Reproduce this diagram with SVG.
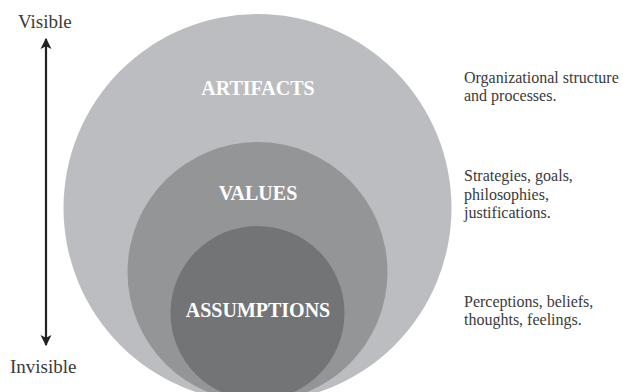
<svg xmlns="http://www.w3.org/2000/svg" width="623" height="392" viewBox="0 0 623 392">
<defs>
<style>
.lbl{font-family:"Liberation Serif","Times New Roman",serif;font-weight:bold;font-size:20px;fill:#ffffff;text-anchor:middle}
.side{font-family:"Liberation Serif","Times New Roman",serif;font-size:16px;fill:#3a3a3a}
.axis{font-family:"Liberation Serif","Times New Roman",serif;font-size:19px;fill:#3a3a3a}
</style>
<marker id="ah" viewBox="0 0 10 10" refX="9" refY="5" markerWidth="11" markerHeight="15" markerUnits="userSpaceOnUse" orient="auto-start-reverse">
<path d="M0,0 L10,5 L0,10 L2.5,5 Z" fill="#222"/>
</marker>
</defs>
<rect width="623" height="392" fill="#ffffff"/>
<g id="artifacts">
<circle cx="257.5" cy="208" r="194" fill="#bcbdc0"/>
<text class="lbl" x="258" y="95">ARTIFACTS</text>
</g>
<g id="values">
<circle cx="257.5" cy="272" r="130" fill="#949597"/>
<text class="lbl" x="258" y="200">VALUES</text>
</g>
<g id="assumptions">
<circle cx="257.5" cy="313" r="87" fill="#737476"/>
<text class="lbl" x="258" y="317">ASSUMPTIONS</text>
</g>
<g id="connectors">
<line x1="46" y1="39" x2="46" y2="345" stroke="#222" stroke-width="2.2" marker-start="url(#ah)" marker-end="url(#ah)"/>
</g>
<g id="axis-labels">
<text class="axis" x="18" y="28">Visible</text>
<text class="axis" x="10" y="373">Invisible</text>
</g>
<g id="descriptions">
<text class="side" x="464" y="83">Organizational structure</text>
<text class="side" x="464" y="101">and processes.</text>
<text class="side" x="464" y="181">Strategies, goals,</text>
<text class="side" x="464" y="199.5">philosophies,</text>
<text class="side" x="464" y="218">justifications.</text>
<text class="side" x="464" y="307">Perceptions, beliefs,</text>
<text class="side" x="464" y="325">thoughts, feelings.</text>
</g>
</svg>
